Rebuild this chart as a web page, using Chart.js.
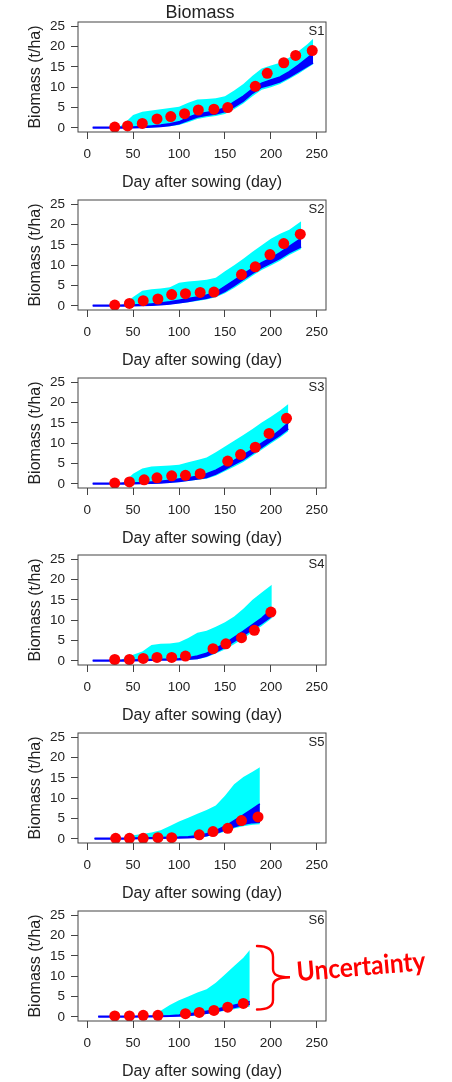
<!DOCTYPE html>
<html>
<head>
<meta charset="utf-8">
<script src="https://cdn.jsdelivr.net/npm/chart.js@4.4.0/dist/chart.umd.min.js"></script>
<style>
  body { margin: 0; background: #fff; width: 452px; height: 1082px; position: relative; overflow: hidden; }
  canvas.panel { position: absolute; left: 0; }
</style>
</head>
<body>
<script>
// biomass panels S1..S6 — simulated bands + observed points

const FONT = "'Liberation Sans', Arial, sans-serif";
const INK = '#222';
const CYAN = '#00FFFF';
const BLUE = '#0000FF';
const RED = '#FF0000';

const xTicks = [0, 50, 100, 150, 200, 250];
const yTicks = [0, 5, 10, 15, 20, 25];

// S1
const s1Days   = [6, 30, 35, 40, 50, 60, 70, 80, 90, 100, 110, 120, 130, 140, 150, 160, 170, 180, 190, 200, 210, 220, 230, 240, 246];
const s1CyanHi = [0, 0, 0.3, 1.0, 3.2, 4.0, 4.3, 4.6, 4.9, 5.2, 6.2, 7.0, 7.1, 7.3, 7.8, 9.2, 10.8, 12.8, 14.6, 15.3, 16.0, 17.3, 18.8, 20.6, 21.9];
const s1CyanLo = [0, 0, 0, 0, 0, 0.05, 0.1, 0.2, 0.4, 0.7, 1.4, 2.2, 2.6, 2.9, 3.4, 4.6, 6.0, 7.8, 9.4, 10.0, 10.8, 12.0, 13.3, 14.8, 15.6];
const s1BlueLo = [0, 0, 0, 0, 0.05, 0.1, 0.2, 0.35, 0.6, 1.0, 1.9, 2.7, 3.1, 3.4, 4.0, 5.2, 6.6, 8.5, 10.0, 10.6, 11.3, 12.5, 13.8, 15.2, 16.0];
const s1BlueHi = [0.15, 0.15, 0.15, 0.2, 0.25, 0.35, 0.5, 0.7, 1.0, 1.5, 2.6, 3.4, 3.8, 4.2, 4.9, 6.4, 7.8, 9.6, 11.0, 11.8, 12.5, 13.8, 15.4, 17.2, 18.3];
const s1ObsDay = [30, 44, 60, 76, 91, 106, 121, 138, 153, 183, 196, 214, 227, 245];
const s1ObsBio = [0.2, 0.5, 1.1, 2.2, 2.8, 3.5, 4.4, 4.6, 5.0, 10.2, 13.4, 16.0, 17.8, 19.0];

// S2
const s2Days   = [6, 30, 35, 40, 50, 60, 70, 80, 90, 100, 110, 120, 130, 140, 150, 160, 170, 180, 190, 200, 210, 220, 233];
const s2CyanHi = [0, 0, 0, 0.3, 2.2, 3.7, 4.1, 4.3, 4.6, 5.7, 6.0, 6.2, 6.4, 6.9, 8.5, 10.0, 11.6, 13.3, 14.9, 16.5, 17.7, 18.7, 20.8];
const s2CyanLo = [0, 0, 0, 0, 0, 0.05, 0.1, 0.2, 0.4, 0.6, 0.9, 1.2, 1.6, 2.1, 3.1, 4.4, 5.9, 7.4, 8.8, 9.9, 11.1, 12.5, 14.0];
const s2BlueLo = [0, 0, 0, 0, 0.05, 0.1, 0.15, 0.3, 0.5, 0.8, 1.1, 1.5, 1.9, 2.5, 3.6, 5.0, 6.5, 8.0, 9.4, 10.5, 11.7, 13.1, 14.5];
const s2BlueHi = [0.15, 0.15, 0.15, 0.2, 0.25, 0.35, 0.5, 0.7, 1.0, 1.4, 1.8, 2.2, 2.7, 3.3, 4.8, 6.3, 7.8, 9.3, 10.6, 11.7, 13.1, 14.6, 16.6];
const s2ObsDay = [30, 46, 61, 77, 92, 107, 123, 138, 168, 183, 199, 214, 232];
const s2ObsBio = [0.2, 0.6, 1.3, 1.7, 2.8, 3.0, 3.3, 3.4, 7.7, 9.6, 12.6, 15.3, 17.6];

// S3
const s3Days   = [6, 30, 35, 40, 50, 60, 70, 80, 90, 100, 110, 120, 130, 140, 150, 160, 170, 180, 190, 200, 210, 219];
const s3CyanHi = [0, 0, 0, 0.4, 2.5, 3.8, 4.3, 4.4, 4.5, 4.7, 5.3, 5.9, 6.5, 7.8, 9.2, 10.6, 12.0, 13.5, 15.1, 16.5, 18.0, 19.6];
const s3CyanLo = [0, 0, 0, 0, 0, 0.05, 0.1, 0.2, 0.3, 0.5, 0.7, 1.0, 1.3, 2.0, 3.1, 4.2, 5.4, 6.9, 8.4, 9.9, 11.4, 12.9];
const s3BlueLo = [0, 0, 0, 0, 0.05, 0.1, 0.15, 0.25, 0.4, 0.6, 0.9, 1.2, 1.6, 2.4, 3.6, 4.8, 6.0, 7.5, 9.0, 10.5, 12.0, 13.5];
const s3BlueHi = [0.15, 0.15, 0.15, 0.2, 0.25, 0.35, 0.5, 0.65, 0.9, 1.2, 1.5, 1.9, 2.5, 3.4, 4.6, 5.8, 7.1, 8.5, 10.0, 11.5, 13.2, 15.0];
const s3ObsDay = [30, 46, 62, 76, 92, 107, 123, 153, 167, 183, 198, 217];
const s3ObsBio = [0.2, 0.5, 1.0, 1.5, 2.0, 2.1, 2.5, 5.6, 7.2, 9.0, 12.4, 16.1];

// S4
const s4Days   = [6, 30, 35, 40, 50, 60, 70, 80, 90, 100, 110, 120, 130, 140, 150, 160, 170, 180, 190, 201];
const s4CyanHi = [0, 0, 0, 0.6, 1.5, 2.3, 3.9, 4.2, 4.3, 4.6, 5.6, 6.9, 7.4, 8.4, 9.5, 10.9, 12.8, 15.0, 16.8, 18.7];
const s4CyanLo = [0, 0, 0, 0, 0, 0.05, 0.1, 0.15, 0.2, 0.25, 0.3, 0.4, 0.9, 1.8, 2.8, 4.1, 5.5, 7.1, 8.6, 10.5];
const s4BlueLo = [0, 0, 0, 0, 0.05, 0.1, 0.15, 0.2, 0.25, 0.3, 0.4, 0.6, 1.2, 2.2, 3.4, 4.8, 6.2, 7.8, 9.2, 11.0];
const s4BlueHi = [0.15, 0.15, 0.15, 0.2, 0.25, 0.3, 0.35, 0.4, 0.45, 0.55, 0.8, 1.2, 1.9, 3.1, 4.3, 5.8, 7.3, 8.9, 10.5, 12.8];
const s4ObsDay = [30, 46, 61, 76, 92, 107, 137, 151, 168, 182, 200];
const s4ObsBio = [0.35, 0.35, 0.6, 0.85, 0.85, 1.2, 3.0, 4.2, 5.7, 7.5, 12.0];

// S5
const s5Days   = [8, 30, 35, 40, 50, 60, 70, 80, 90, 100, 110, 120, 130, 140, 150, 160, 170, 180, 188];
const s5CyanHi = [0, 0, 0, 0.2, 0.9, 1.2, 1.6, 2.1, 3.2, 4.3, 5.2, 6.2, 7.1, 8.2, 10.6, 13.4, 15.2, 16.5, 17.6];
const s5CyanLo = [0, 0, 0, 0, 0, 0.05, 0.05, 0.1, 0.15, 0.2, 0.25, 0.3, 0.6, 1.1, 1.8, 2.6, 3.1, 3.5, 3.6];
const s5BlueLo = [0, 0, 0, 0, 0.05, 0.1, 0.1, 0.15, 0.2, 0.25, 0.3, 0.4, 0.8, 1.4, 2.2, 3.0, 3.6, 4.0, 4.1];
const s5BlueHi = [0.15, 0.15, 0.15, 0.15, 0.2, 0.25, 0.3, 0.35, 0.4, 0.45, 0.55, 0.8, 1.3, 2.0, 3.1, 4.5, 5.9, 7.4, 8.6];
const s5ObsDay = [31, 46, 61, 77, 92, 122, 137, 153, 168, 186];
const s5ObsBio = [0.15, 0.15, 0.15, 0.3, 0.3, 1.0, 1.8, 2.6, 4.5, 5.4];

// S6
const s6Days   = [12, 30, 40, 50, 60, 70, 80, 90, 100, 110, 120, 130, 140, 150, 160, 170, 177];
const s6CyanHi = [0, 0, 0, 0, 0.05, 0.3, 1.5, 2.9, 4.1, 5.0, 6.0, 6.8, 8.4, 10.4, 12.5, 14.5, 16.4];
const s6CyanLo = [0, 0, 0, 0, 0, 0, 0.05, 0.1, 0.15, 0.25, 0.45, 0.7, 1.1, 1.5, 1.9, 2.3, 2.5];
const s6BlueLo = [0, 0, 0, 0, 0.05, 0.05, 0.1, 0.15, 0.2, 0.35, 0.6, 0.9, 1.3, 1.8, 2.3, 2.8, 3.1];
const s6BlueHi = [0.15, 0.15, 0.15, 0.15, 0.2, 0.2, 0.25, 0.3, 0.45, 0.7, 1.0, 1.4, 1.8, 2.4, 2.9, 3.4, 3.8];
const s6ObsDay = [30, 46, 61, 77, 107, 122, 138, 153, 170];
const s6ObsBio = [0.25, 0.25, 0.4, 0.4, 0.8, 1.1, 1.6, 2.4, 3.3];

const panels = [
  { tag: 'S1', days: s1Days, cyanLo: s1CyanLo, cyanHi: s1CyanHi, blueLo: s1BlueLo, blueHi: s1BlueHi, obsDay: s1ObsDay, obsBio: s1ObsBio },
  { tag: 'S2', days: s2Days, cyanLo: s2CyanLo, cyanHi: s2CyanHi, blueLo: s2BlueLo, blueHi: s2BlueHi, obsDay: s2ObsDay, obsBio: s2ObsBio },
  { tag: 'S3', days: s3Days, cyanLo: s3CyanLo, cyanHi: s3CyanHi, blueLo: s3BlueLo, blueHi: s3BlueHi, obsDay: s3ObsDay, obsBio: s3ObsBio },
  { tag: 'S4', days: s4Days, cyanLo: s4CyanLo, cyanHi: s4CyanHi, blueLo: s4BlueLo, blueHi: s4BlueHi, obsDay: s4ObsDay, obsBio: s4ObsBio },
  { tag: 'S5', days: s5Days, cyanLo: s5CyanLo, cyanHi: s5CyanHi, blueLo: s5BlueLo, blueHi: s5BlueHi, obsDay: s5ObsDay, obsBio: s5ObsBio },
  { tag: 'S6', days: s6Days, cyanLo: s6CyanLo, cyanHi: s6CyanHi, blueLo: s6BlueLo, blueHi: s6BlueHi, obsDay: s6ObsDay, obsBio: s6ObsBio }
];

const PANEL_STEP = 177.75;
const CANVAS_H = 200;

const pts = (xs, ys) => xs.map((x, i) => ({ x, y: ys[i] }));

// box, panel tag, main title and the uncertainty brace
const panelDeco = {
  id: 'panelDeco',
  afterDraw(chart, args, opts) {
    const { ctx, chartArea: a } = chart;
    ctx.save();
    ctx.strokeStyle = '#444';
    ctx.lineWidth = 1;
    ctx.strokeRect(a.left, a.top, a.right - a.left, a.bottom - a.top);

    ctx.fillStyle = INK;
    ctx.font = '13px ' + FONT;
    ctx.textAlign = 'right';
    ctx.textBaseline = 'middle';
    ctx.fillText(opts.tag, a.right - 1.5, a.top + 9);

    if (opts.title) {
      ctx.font = '18px ' + FONT;
      ctx.textAlign = 'center';
      ctx.fillText(opts.title, 200, 13);
    }

    if (opts.note) {
      ctx.strokeStyle = RED;
      ctx.lineWidth = 2.4;
      ctx.lineCap = 'round';
      ctx.beginPath();
      ctx.moveTo(257, 57);
      ctx.bezierCurveTo(268, 57, 273, 61, 273, 68);
      ctx.lineTo(273, 80);
      ctx.bezierCurveTo(273, 86, 278, 88.3, 290, 88.3);
      ctx.bezierCurveTo(278, 88.3, 273, 91, 273, 97);
      ctx.lineTo(273, 111);
      ctx.bezierCurveTo(273, 117, 268, 120.5, 257, 120.5);
      ctx.stroke();

      ctx.translate(361, 78);
      ctx.rotate(-5 * Math.PI / 180);
      ctx.font = 'bold 27px Lato, ' + FONT;
      const w = ctx.measureText(opts.note).width;
      ctx.scale(129 / w, 1);
      ctx.fillStyle = RED;
      ctx.textAlign = 'center';
      ctx.textBaseline = 'middle';
      ctx.fillText(opts.note, 0, 0);
    }
    ctx.restore();
  }
};

panels.forEach((p, i) => {
  const cv = document.createElement('canvas');
  cv.className = 'panel';
  cv.width = 452;
  cv.height = CANVAS_H;
  cv.style.top = Math.round(PANEL_STEP * i) + 'px';
  document.body.appendChild(cv);

  new Chart(cv, {
    type: 'line',
    data: {
      datasets: [
        { data: pts(p.days, p.cyanLo), borderColor: 'rgba(0,0,0,0)', borderWidth: 0, pointRadius: 0, fill: false, order: 3 },
        { data: pts(p.days, p.cyanHi), borderColor: 'rgba(0,0,0,0)', borderWidth: 0, pointRadius: 0, fill: '-1', backgroundColor: CYAN, order: 3 },
        { data: pts(p.days, p.blueLo), borderColor: BLUE, borderWidth: 1.5, pointRadius: 0, fill: false, order: 2 },
        { data: pts(p.days, p.blueHi), borderColor: BLUE, borderWidth: 1.5, pointRadius: 0, fill: '-1', backgroundColor: BLUE, order: 2 },
        { type: 'scatter', data: pts(p.obsDay, p.obsBio), pointRadius: 5.5, pointBackgroundColor: RED, pointBorderWidth: 0, showLine: false, order: 1 }
      ]
    },
    options: {
      responsive: false,
      animation: false,
      events: [],
      layout: { padding: { top: 22, left: 0, right: 126, bottom: 0 } },
      elements: { line: { tension: 0 } },
      plugins: {
        legend: { display: false },
        tooltip: { enabled: false },
        panelDeco: { tag: p.tag, title: i === 0 ? 'Biomass' : '', note: i === 5 ? 'Uncertainty' : '' }
      },
      scales: {
        x: {
          type: 'linear',
          min: -10,
          max: 260,
          afterBuildTicks: s => { s.ticks = xTicks.map(v => ({ value: v })); },
          afterFit: s => { s.height = CANVAS_H - 132; },
          ticks: { font: { family: FONT, size: 13.5 }, color: INK, padding: 7.2, autoSkip: false, maxRotation: 0 },
          grid: { drawOnChartArea: false, drawTicks: true, tickLength: 7, color: '#444' },
          border: { display: false },
          title: { display: true, text: 'Day after sowing (day)', font: { family: FONT, size: 16 }, color: INK, padding: { top: 0, bottom: 7.4 } }
        },
        y: {
          min: -1,
          max: 26,
          afterBuildTicks: s => { s.ticks = yTicks.map(v => ({ value: v })); },
          afterFit: s => { s.width = 78; },
          ticks: { font: { family: FONT, size: 13.5 }, color: INK, padding: 6 },
          grid: { drawOnChartArea: false, drawTicks: true, tickLength: 7, color: '#444' },
          border: { display: false },
          title: { display: true, text: 'Biomass (t/ha)', font: { family: FONT, size: 16 }, color: INK, padding: { top: 25.9, bottom: 0 } }
        }
      }
    },
    plugins: [panelDeco]
  });
});
</script>
</body>
</html>
